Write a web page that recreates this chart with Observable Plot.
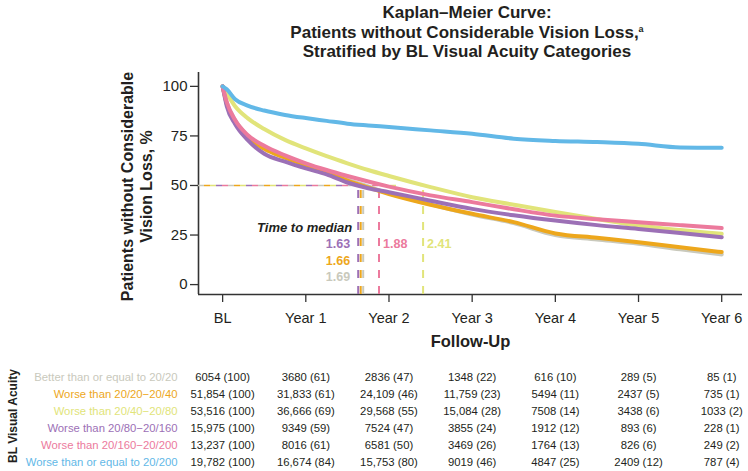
<!DOCTYPE html>
<html><head><meta charset="utf-8">
<script src="https://cdn.jsdelivr.net/npm/d3@7"></script>
<script src="https://cdn.jsdelivr.net/npm/@observablehq/plot@0.6"></script>
<style>
body{margin:0;background:#fff;font-family:"Liberation Sans",Arial,sans-serif;}
#wrap{position:relative;width:748px;height:471px;overflow:hidden;background:#fff;}
#title{position:absolute;left:217px;width:500px;top:3px;text-align:center;font-weight:bold;font-size:17px;line-height:19.5px;color:#231f20;}
#title sup{font-size:9px;vertical-align:top;line-height:12px;}
#chart{position:absolute;left:0;top:60px;}
#table{position:absolute;left:0;top:360px;}
</style></head><body>
<div id="wrap">
<div id="title">Kaplan–Meier Curve:<br>Patients without Considerable Vision Loss,<sup>a</sup><br>Stratified by BL Visual Acuity Categories</div>
<div id="chart"></div>
<div id="table"></div>
</div>
<script>
// ---- data ----
const groups = ["Better than or equal to 20/20", "Worse than 20/20\u221220/40", "Worse than 20/40\u221220/80",
  "Worse than 20/80\u221220/160", "Worse than 20/160\u221220/200", "Worse than or equal to 20/200"];
const colors = ["#c9c9bc", "#eda71c", "#e1e47a", "#9c70b6", "#ec7a9d", "#62b8e7"];
const tickYears = [0, 1, 2, 3, 4, 5, 6];
const tickLabels = ["BL", "Year 1", "Year 2", "Year 3", "Year 4", "Year 5", "Year 6"];
const yTicks = [0, 25, 50, 75, 100];
const times = [0, 0.05, 0.15, 0.3, 0.5, 0.75, 1, 1.25, 1.5, 1.75, 2, 2.5, 3, 3.5, 4, 4.5, 5, 5.5, 6];
const survGray   = [100, 92, 83, 75, 69.5, 64.8, 60.8, 57, 53, 49.5, 46, 40.5, 35.3, 31, 25, 22.8, 20.6, 17.8, 15.2];
const survOrange = [100, 91, 82, 74.5, 68.5, 64, 60.2, 56.6, 52.5, 49, 45.7, 40.3, 35.7, 31.5, 25.8, 23.6, 21.4, 18.8, 16.4];
const survYellow = [100, 96.5, 90, 84, 78.5, 73, 68.7, 64.8, 61.2, 57.8, 54.8, 49.2, 44.1, 40.3, 36.6, 33.1, 29.8, 27.5, 25.6];
const survPurple = [100, 90, 81, 73, 66, 62, 58.6, 55.6, 51.5, 48.6, 46.6, 42.3, 38.2, 35, 32.3, 30, 28.1, 26, 23.9];
const survPink   = [100, 92, 83, 75.5, 70, 65.2, 61.2, 57.8, 54.8, 52, 49.4, 45, 41.6, 38, 34.8, 33, 31.5, 30, 28.5];
const survBlue   = [100, 98.5, 93.5, 90.3, 87.8, 85.6, 84, 82.6, 81.2, 80.3, 79.5, 77.8, 76.1, 73.6, 72.5, 71.9, 71, 69.2, 69];
const medians = [1.69, 1.66, 2.41, 1.63, 1.88, null];
const atRiskN = [
  [6054, 3680, 2836, 1348, 616, 289, 85],
  [51854, 31833, 24109, 11759, 5494, 2437, 735],
  [53516, 36666, 29568, 15084, 7508, 3438, 1033],
  [15975, 9349, 7524, 3855, 1912, 893, 228],
  [13237, 8016, 6581, 3469, 1764, 826, 249],
  [19782, 16674, 15753, 9019, 4847, 2409, 787]
];
const atRiskPct = [
  [100, 61, 47, 22, 10, 5, 1],
  [100, 61, 46, 23, 11, 5, 1],
  [100, 69, 55, 28, 14, 6, 2],
  [100, 59, 47, 24, 12, 6, 1],
  [100, 61, 50, 26, 13, 6, 2],
  [100, 84, 80, 46, 25, 12, 4]
];

// ---- build tables ----
const survAll = [survGray, survOrange, survYellow, survPurple, survPink, survBlue];
const curves = [];
survAll.forEach((s, g) => times.forEach((t, i) => curves.push({g, group: groups[g], color: colors[g], t, v: s[i]})));
const medRows = medians.map((m, g) => ({g, median: m, color: colors[g]})).filter(d => d.median != null);
const fmtN = n => n >= 10000 ? d3.format(",")(n) : String(n);
const cells = [];
groups.forEach((grp, g) => tickYears.forEach((t, i) => cells.push({group: grp, t, label: `${fmtN(atRiskN[g][i])} (${atRiskPct[g][i]})`})));

const xDomain = [-0.29, 6.25];
const font = "'Liberation Sans', Arial, Helvetica, sans-serif";
const ink = "#231f20";

// horizontal dashed guide lines at 50 %, interleaved dashes
const hDashMarks = medRows.map((d, i) => Plot.ruleY([d], {y: () => 50, x1: () => xDomain[0], x2: "median", stroke: "color",
  strokeWidth: 1.5, strokeDasharray: "6,24", strokeDashoffset: -6 * i}));

// median label layout
const leftMeds = medRows.filter(d => d.median < 1.75).sort((a, b) => a.median - b.median);
const rightMeds = medRows.filter(d => d.median >= 1.75);
const leftX = d3.min(leftMeds, d => d.median);
const medLabelMarks = [
  ...leftMeds.map((d, i) => Plot.text([d], {x: () => leftX, y: () => 50, dx: -8, dy: 59 + 16.5 * i, text: r => d3.format(".2f")(r.median),
    fill: "color", textAnchor: "end", fontWeight: "bold", fontSize: 12.5})),
  ...rightMeds.map(d => Plot.text([d], {x: "median", y: () => 50, dx: 4, dy: 59, text: r => d3.format(".2f")(r.median),
    fill: "color", textAnchor: "start", fontWeight: "bold", fontSize: 12.5})),
  Plot.text(["Time to median"], {x: () => leftX, y: () => 50, dx: -6, dy: 42, textAnchor: "end", fontWeight: "bold", fontStyle: "italic", fontSize: 13, fill: ink})
];

const chart = Plot.plot({
  width: 748, height: 300,
  marginLeft: 198, marginRight: 6, marginTop: 12, marginBottom: 66,
  x: {domain: xDomain, label: null},
  y: {domain: [-5, 107], label: null},
  color: {type: "identity"},
  style: {fontFamily: font, fontSize: "15px", color: ink, background: "transparent"},
  marks: [
    Plot.axisX({ticks: tickYears, tickFormat: d => tickLabels[d], tickSize: 8, tickPadding: 10, fontSize: 14.5, stroke: "#333", strokeWidth: 1.3, label: null}),
    Plot.axisY({ticks: yTicks, tickSize: 8, tickPadding: 3, fontSize: 15, stroke: "#333", strokeWidth: 1.3, label: null}),
    Plot.ruleY([-5], {stroke: "#333", strokeWidth: 1.6}),
    Plot.ruleX([xDomain[0]], {y1: -5, y2: 107, stroke: "#333", strokeWidth: 1.6}),
    ...hDashMarks,
    Plot.ruleX(medRows, {x: "median", y1: -5, y2: 50, stroke: "color", strokeWidth: 2, strokeDasharray: "8,8"}),
    Plot.line(curves, {x: "t", y: "v", z: "group", stroke: "color", strokeWidth: 4, curve: "monotone-x", strokeLinejoin: "round"}),
    ...medLabelMarks,
    Plot.text(["Patients without Considerable\nVision Loss, %"], {frameAnchor: "left", dx: -62.5, dy: 3, rotate: -90, textAnchor: "middle", lineAnchor: "middle",
      fontWeight: "bold", fontSize: 16, lineHeight: 1.19, fill: ink}),
    Plot.text(["Follow-Up"], {frameAnchor: "bottom", dy: 47, lineAnchor: "middle", fontWeight: "bold", fontSize: 16.5, fill: ink})
  ]
});
document.getElementById("chart").appendChild(chart);

const table = Plot.plot({
  width: 748, height: 111,
  marginLeft: 198, marginRight: 6, marginTop: 0, marginBottom: 0,
  x: {domain: xDomain, axis: null},
  y: {type: "point", domain: groups, range: [16, 103], padding: 0, axis: null},
  color: {type: "identity"},
  style: {fontFamily: font, fontSize: "11.3px", color: ink, background: "transparent"},
  marks: [
    Plot.text(cells, {x: "t", y: "group", text: "label", fontSize: 11.3, fill: ink}),
    Plot.text(groups, {frameAnchor: "left", y: d => d, dx: -21, textAnchor: "end", fill: (d, i) => colors[i], fontSize: 11.3}),
    Plot.text(["BL Visual Acuity"], {frameAnchor: "left", dx: -185, dy: 0, rotate: -90, textAnchor: "middle", lineAnchor: "middle", fontWeight: "bold", fontSize: 12, fill: ink})
  ]
});
document.getElementById("table").appendChild(table);
</script>
</body></html>
